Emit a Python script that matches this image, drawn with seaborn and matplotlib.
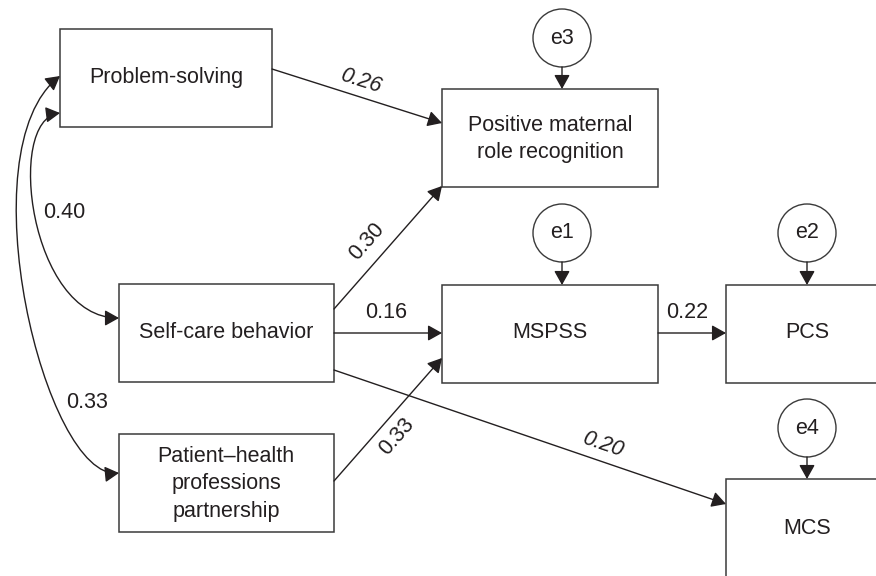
import matplotlib
matplotlib.use("Agg")
import matplotlib.pyplot as plt
from matplotlib.patches import Rectangle, Circle, FancyArrowPatch
from matplotlib.path import Path
import numpy as np
import seaborn as sns

# --- model data -----------------------------------------------------------
nodes = ["Problem-solving", "Self-care behavior",
         "Patient\u2013health\nprofessions\npartnership",
         "Positive maternal\nrole recognition", "MSPSS", "PCS", "MCS"]

residuals = ["e3", "e1", "e2", "e4"]
residual_to = ["Positive maternal\nrole recognition", "MSPSS", "PCS", "MCS"]

path_from = ["Problem-solving", "Self-care behavior", "Self-care behavior",
             "Patient\u2013health\nprofessions\npartnership",
             "Self-care behavior", "MSPSS"]
path_to = ["Positive maternal\nrole recognition", "Positive maternal\nrole recognition",
           "MSPSS", "MSPSS", "MCS", "PCS"]
path_coef = [0.26, 0.30, 0.16, 0.33, 0.20, 0.22]
path_italic = [True, False, False, False, True, False]

cov_coef = [0.40, 0.33]

# --- layout (pixel coords, y down) ----------------------------------------
box = {  # x0, y0, w, h, text x, text y
    nodes[0]: (60, 29, 212, 98, 166, 78),
    nodes[1]: (119, 284, 215, 98, 226, 333),
    nodes[2]: (119, 434, 215, 98, 226, 484),
    nodes[3]: (442, 89, 216, 98, 550, 139),
    nodes[4]: (442, 285, 216, 98, 550, 333),
    nodes[5]: (726, 285, 162, 98, 807, 333),
    nodes[6]: (726, 479, 162, 98, 807, 528),
}
err_pos = {"e3": (562, 38), "e1": (562, 233), "e2": (807, 233), "e4": (807, 428)}
err_r = 29
path_ends = [((272, 69), (442, 123)), ((334, 309), (442, 186)),
             ((334, 333), (442, 333)), ((334, 481), (442, 358)),
             ((334, 370), (726, 504)), ((658, 333), (726, 333))]
path_label = [(361, 81), (367, 242), (386, 313), (397, 437), (603, 445), (687, 313)]
cov_paths = [[(60, 113), (5, 120), (30, 318), (119, 318)],
             [(60, 76), (-35, 150), (45, 480), (119, 473)]]
cov_label = [(64, 212), (87, 402)]

ink = "#231f20"
fs = 15.5

sns.set_theme(style="white")
plt.rcParams["font.family"] = ["Liberation Sans", "DejaVu Sans"]

fig = plt.figure(figsize=(8.76, 5.76), dpi=100)
ax = fig.add_axes([0, 0, 1, 1])
ax.set_xlim(0, 876)
ax.set_ylim(576, 0)
ax.axis("off")

head = "-|>,head_length=0.43,head_width=0.24"

for name in nodes:
    x0, y0, w, h, tx, ty = box[name]
    ax.add_patch(Rectangle((x0, y0), w, h, facecolor="white", edgecolor="#3a3a3a", lw=1.1))
    ax.text(tx, ty, name, ha="center", va="center", fontsize=fs, color=ink,
            linespacing=1.4)

for e, tgt in zip(residuals, residual_to):
    cx, cy = err_pos[e]
    ax.add_patch(Circle((cx, cy), err_r, facecolor="white", edgecolor="#3a3a3a", lw=1.0))
    ax.text(cx, cy, e, ha="center", va="center", fontsize=fs, color=ink)
    ax.add_patch(FancyArrowPatch((cx, cy + err_r), (cx, box[tgt][1]), arrowstyle=head,
                                 mutation_scale=20, shrinkA=0, shrinkB=0,
                                 color=ink, lw=1.0))

for (p0, p1), coef, (lx, ly), ital in zip(path_ends, path_coef, path_label, path_italic):
    ax.add_patch(FancyArrowPatch(p0, p1, arrowstyle=head, mutation_scale=20,
                                 shrinkA=0, shrinkB=0, color=ink, lw=1.0))
    rot = np.degrees(np.arctan2(-(p1[1] - p0[1]), p1[0] - p0[0]))
    ax.text(lx, ly, f"{coef:.2f}", ha="center", va="center", fontsize=fs, color=ink,
            rotation=rot, rotation_mode="anchor",
            fontstyle="italic" if ital else "normal")

for verts, coef, (lx, ly) in zip(cov_paths, cov_coef, cov_label):
    p = Path(verts, [Path.MOVETO, Path.CURVE4, Path.CURVE4, Path.CURVE4])
    ax.add_patch(FancyArrowPatch(path=p, arrowstyle="<|-|>,head_length=0.43,head_width=0.24",
                                 mutation_scale=20, color=ink, lw=1.0))
    ax.text(lx, ly, f"{coef:.2f}", ha="center", va="center", fontsize=fs, color=ink)

fig.savefig("out.png", dpi=100)
plt.close(fig)
